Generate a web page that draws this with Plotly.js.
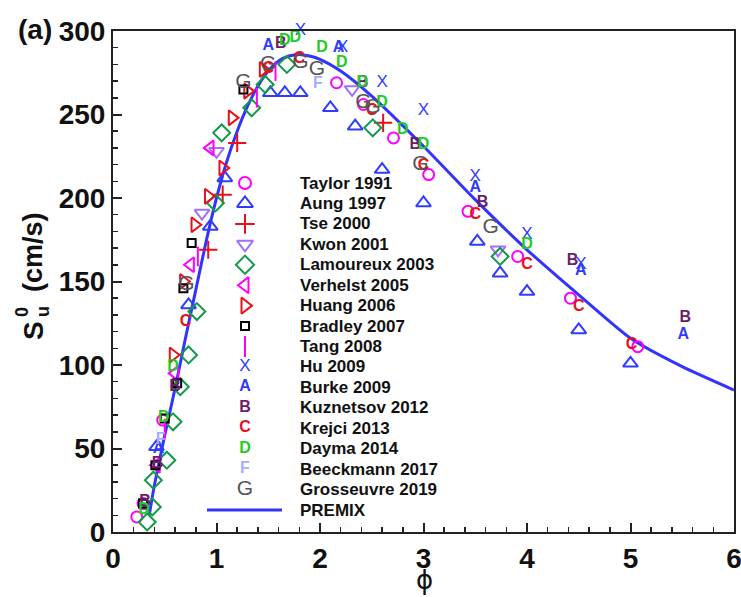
<!DOCTYPE html>
<html><head><meta charset="utf-8">
<script src="https://cdn.plot.ly/plotly-3.0.1.min.js"></script>
<style>html,body{margin:0;padding:0;background:#fff}</style>
</head><body><div id="chart" style="width:741px;height:597px"></div>
<script>
// ---------- data ----------
const taylorPhi = [0.23, 0.29, 0.48, 2.16, 2.42, 2.71, 3.05, 3.43, 3.91, 4.42, 5.07];
const taylorSu  = [9, 17, 67, 269, 256, 236, 214, 192, 165, 140, 111];
const aungPhi = [0.42, 0.73, 0.94, 1.08, 1.52, 1.66, 1.81, 2.10, 2.34, 2.60, 3.00, 3.52, 3.74, 4.00, 4.50, 5.00];
const aungSu  = [51, 136, 183, 212, 263, 263, 263, 254, 243, 217, 197, 174, 155, 144, 121, 101];
const tsePhi = [0.92, 1.06, 1.20, 2.61];
const tseSu  = [169, 202, 233, 245];
const kwonPhi = [0.86, 1.00, 2.31, 3.72];
const kwonSu  = [191, 228, 265, 169];
const lamPhi = [0.33, 0.38, 0.39, 0.52, 0.58, 0.65, 0.73, 0.81, 0.99, 1.05, 1.34, 1.47, 1.68, 2.51, 3.74];
const lamSu  = [6, 15, 31, 43, 66, 87, 106, 132, 197, 239, 254, 268, 280, 242, 165];
const verPhi = [0.42, 0.60, 0.75, 0.94];
const verSu  = [40, 95, 160, 230];
const huangPhi = [0.58, 0.68, 0.79, 0.92, 1.06, 1.15, 1.30, 1.45];
const huangSu  = [106, 150, 184, 201, 218, 248, 264, 277];
const bradPhi = [0.29, 0.41, 0.50, 0.62, 0.68, 0.76, 1.26];
const bradSu  = [17, 40, 68, 89, 146, 173, 265];
const tangPhi = [0.50, 0.82, 1.39, 1.57];
const tangSu  = [62, 165, 260, 276];
const huPhi = [1.81, 2.22, 2.60, 3.00, 3.50, 4.00, 4.52];
const huSu  = [300, 290, 269, 252, 213, 178, 160];
const burkePhi = [0.44, 1.50, 2.18, 3.50, 4.52, 5.51];
const burkeSu  = [50, 291, 290, 206, 156, 118];
const kuzPhi = [0.31, 0.43, 0.60, 1.62, 2.41, 2.92, 3.57, 4.44, 5.53];
const kuzSu  = [18, 41, 87, 292, 269, 232, 197, 162, 128];
const krejciPhi = [0.70, 1.50, 1.80, 2.50, 3.00, 3.50, 4.00, 4.50, 5.01];
const krejciSu  = [126, 277, 283, 252, 219, 190, 160, 135, 112];
const daymaPhi = [0.30, 0.49, 0.58, 1.66, 1.76, 2.02, 2.21, 2.41, 2.60, 2.80, 3.00, 4.00];
const daymaSu  = [13, 68, 99, 294, 296, 290, 281, 269, 257, 241, 232, 172];
const beeckPhi = [0.46, 1.98];
const beeckSu  = [55, 268];
const grossPhi = [0.71, 1.26, 1.50, 1.81, 1.97, 2.42, 2.51, 2.97, 3.65];
const grossSu  = [148, 269, 280, 281, 277, 257, 254, 220, 182];
const premixPhi = [0.35, 0.40, 0.50, 0.60, 0.70, 0.80, 0.90, 1.00, 1.10, 1.20, 1.30, 1.40, 1.50, 1.60, 1.70, 1.80, 1.90, 2.00, 2.20, 2.50, 3.00, 3.50, 4.00, 4.50, 5.00, 5.50, 6.00];
const premixSu  = [10, 28, 58, 86, 116, 145, 174, 200, 222, 240, 255, 267, 276, 282, 285, 286, 285, 283, 276, 261, 231, 199, 169, 142, 116, 99, 85];
const xTicks = [0, 1, 2, 3, 4, 5, 6];
const yTicks = [0, 50, 100, 150, 200, 250, 300];

// ---------- series styles ----------
const FONT = 'Liberation Sans, Arial, Helvetica, sans-serif';
const series = [
  {name:'Taylor 1991', x:taylorPhi, y:taylorSu, kind:'m', sym:'circle-open', color:'#ff00ff', size:11, lsize:12},
  {name:'Aung 1997', x:aungPhi, y:aungSu, kind:'m', sym:'triangle-up-open', color:'#2f3cff', size:13, lsize:14},
  {name:'Tse 2000', x:tsePhi, y:tseSu, kind:'m', sym:'cross-thin-open', color:'#e8101a', size:13, lsize:14},
  {name:'Kwon 2001', x:kwonPhi, y:kwonSu, kind:'m', sym:'triangle-down-open', color:'#a070ff', size:13, lsize:14},
  {name:'Lamoureux 2003', x:lamPhi, y:lamSu, kind:'m', sym:'diamond-open', color:'#119a4a', size:13, lsize:14},
  {name:'Verhelst 2005', x:verPhi, y:verSu, kind:'m', sym:'triangle-left-open', color:'#ff00ff', size:13, lsize:14},
  {name:'Huang 2006', x:huangPhi, y:huangSu, kind:'m', sym:'triangle-right-open', color:'#e8101a', size:13, lsize:14},
  {name:'Bradley 2007', x:bradPhi, y:bradSu, kind:'m', sym:'square-open', color:'#000000', size:8, lsize:8},
  {name:'Tang 2008', x:tangPhi, y:tangSu, kind:'m', sym:'line-ns-open', color:'#ff00ff', size:14, lsize:15},
  {name:'Hu 2009', x:huPhi, y:huSu, kind:'t', letter:'X', color:'#2f3cff', size:17, weight:'normal'},
  {name:'Burke 2009', x:burkePhi, y:burkeSu, kind:'t', letter:'A', color:'#2f3cff', size:16, weight:'bold'},
  {name:'Kuznetsov 2012', x:kuzPhi, y:kuzSu, kind:'t', letter:'B', color:'#6b1f6b', size:16, weight:'bold'},
  {name:'Krejci 2013', x:krejciPhi, y:krejciSu, kind:'t', letter:'C', color:'#e8101a', size:16, weight:'bold'},
  {name:'Dayma 2014', x:daymaPhi, y:daymaSu, kind:'t', letter:'D', color:'#22cc22', size:16, weight:'bold'},
  {name:'Beeckmann 2017', x:beeckPhi, y:beeckSu, kind:'t', letter:'F', color:'#a8acff', size:16, weight:'bold'},
  {name:'Grosseuvre 2019', x:grossPhi, y:grossSu, kind:'t', letter:'G', color:'#555555', size:21, weight:'normal'}
];

const traces = [];
// PREMIX line
traces.push({x:premixPhi, y:premixSu, mode:'lines', line:{color:'#3333ff', width:3, shape:'spline', smoothing:0.6}, showlegend:false, hoverinfo:'skip'});
series.forEach(s => {
  if (s.kind === 'm') {
    traces.push({x:s.x, y:s.y, mode:'markers', name:s.name, showlegend:false, cliponaxis:false,
      marker:{symbol:s.sym, size:s.size, color:s.color, line:{color:s.color, width:2}}});
  } else {
    traces.push({x:s.x, y:s.y, mode:'text', name:s.name, showlegend:false, cliponaxis:false,
      text:s.x.map(() => s.letter), textposition:'middle center',
      textfont:{family:FONT, size:s.size, color:s.color, weight:s.weight}});
  }
});

// ---------- manual legend (overlay axes in [0,1]) ----------
const L = 113, R = 734, T = 31, B = 532;
const px2x = p => (p - L) / (R - L);
const py2y = p => (B - p) / (B - T);
const rowY = i => py2y(183 + i * 20.44);
const symX = px2x(245), txtX = px2x(298);
const annotations = [];
series.forEach((s, i) => {
  if (s.kind === 'm') {
    traces.push({x:[symX], y:[rowY(i)], xaxis:'x2', yaxis:'y2', mode:'markers', showlegend:false, cliponaxis:false, hoverinfo:'skip',
      marker:{symbol:s.sym, size:s.lsize, color:s.color, line:{color:s.color, width:2}}});
  } else {
    traces.push({x:[symX], y:[rowY(i)], xaxis:'x2', yaxis:'y2', mode:'text', text:[s.letter], showlegend:false, cliponaxis:false, hoverinfo:'skip',
      textposition:'middle center', textfont:{family:FONT, size:s.size, color:s.color, weight:s.weight}});
  }
  annotations.push({xref:'paper', yref:'paper', x:txtX, y:rowY(i), xanchor:'left', yanchor:'middle', showarrow:false,
    text:s.name, font:{family:FONT, size:17, color:'#111', weight:'bold'}});
});
annotations.push({xref:'paper', yref:'paper', x:txtX, y:rowY(16), xanchor:'left', yanchor:'middle', showarrow:false,
  text:'PREMIX', font:{family:FONT, size:17, color:'#111', weight:'bold'}});
// titles
annotations.push({xref:'paper', yref:'paper', x:px2x(35), y:py2y(30), xanchor:'center', yanchor:'middle', showarrow:false,
  text:'(a)', font:{family:FONT, size:28, color:'#111', weight:'bold'}});
// y-axis title: S, subscript u with superscript 0 stacked above it, (cm/s)
annotations.push({xref:'paper', yref:'paper', x:px2x(33), y:py2y(331), xanchor:'center', yanchor:'middle', showarrow:false, textangle:-90,
  text:'S', font:{family:FONT, size:28, color:'#111', weight:'bold'}});
annotations.push({xref:'paper', yref:'paper', x:px2x(43), y:py2y(312), xanchor:'center', yanchor:'middle', showarrow:false, textangle:-90,
  text:'u', font:{family:FONT, size:18, color:'#111', weight:'bold'}});
annotations.push({xref:'paper', yref:'paper', x:px2x(22), y:py2y(312), xanchor:'center', yanchor:'middle', showarrow:false, textangle:-90,
  text:'0', font:{family:FONT, size:18, color:'#111', weight:'bold'}});
annotations.push({xref:'paper', yref:'paper', x:px2x(33), y:py2y(252), xanchor:'center', yanchor:'middle', showarrow:false, textangle:-90,
  text:'(cm/s)', font:{family:FONT, size:27, color:'#111', weight:'bold'}});
annotations.push({xref:'paper', yref:'paper', x:px2x(424), y:py2y(580), xanchor:'center', yanchor:'middle', showarrow:false,
  text:'ϕ', font:{family:'DejaVu Sans, sans-serif', size:26, color:'#111'}});

const shapes = [{type:'line', xref:'paper', yref:'paper', x0:px2x(207), x1:px2x(282), y0:rowY(16), y1:rowY(16),
  line:{color:'#3333ff', width:3}}];

const axisCommon = {showline:true, linewidth:2, linecolor:'#222', mirror:true, ticks:'inside', ticklen:9, tickwidth:2, tickcolor:'#222',
  showgrid:false, zeroline:false, ticklabeloverflow:'allow', tickfont:{family:FONT, size:28, color:'#111', weight:'bold'}, fixedrange:true};
const layout = {
  width:741, height:597, margin:{l:L, r:741-R, t:T, b:597-B}, paper_bgcolor:'#fff', plot_bgcolor:'#fff', showlegend:false,
  xaxis:Object.assign({}, axisCommon, {range:[0,6], tickvals:xTicks, ticktext:xTicks.map(String), automargin:false,
    minor:{dtick:0.2, ticks:'inside', ticklen:5, tickwidth:1.5, tickcolor:'#222', showgrid:false}}),
  yaxis:Object.assign({}, axisCommon, {range:[0,300], tickvals:yTicks, ticktext:yTicks.map(String), automargin:false,
    minor:{dtick:10, ticks:'inside', ticklen:5, tickwidth:1.5, tickcolor:'#222', showgrid:false}}),
  xaxis2:{overlaying:'x', range:[0,1], visible:false, fixedrange:true},
  yaxis2:{overlaying:'y', range:[0,1], visible:false, fixedrange:true},
  annotations:annotations, shapes:shapes
};
Plotly.newPlot('chart', traces, layout, {displayModeBar:false, staticPlot:true});
</script></body></html>
